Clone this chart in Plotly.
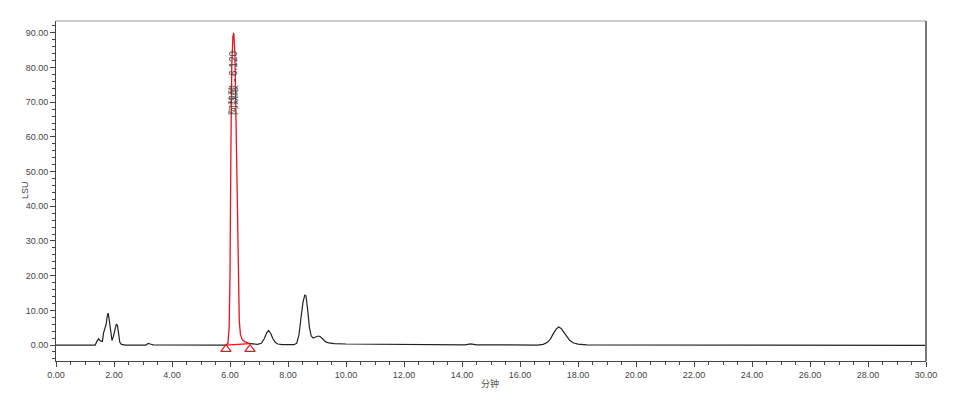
import plotly.graph_objects as go

# Black trace (signal outside the integrated peak), minutes vs LSU
black_t1 = [0.0, 1.35, 1.42, 1.47, 1.53, 1.60, 1.64, 1.68, 1.73, 1.77, 1.80, 1.84, 1.88, 1.93,
            1.98, 2.03, 2.08, 2.12, 2.16, 2.20, 2.26, 2.40, 3.10, 3.18, 3.25, 3.35, 5.86]
black_v1 = [0.0, 0.0, 1.2, 1.8, 1.2, 1.0, 3.5, 4.5, 6.0, 8.5, 9.2, 7.0, 3.5, 1.3,
            2.5, 4.8, 6.0, 5.6, 3.0, 0.8, 0.2, 0.0, 0.0, 0.5, 0.3, 0.05, 0.0]
black_t2 = [6.69, 6.80, 6.95, 7.08, 7.18, 7.27, 7.33, 7.40, 7.48, 7.56, 7.65, 7.80, 8.20, 8.30,
            8.38, 8.45, 8.52, 8.58, 8.62, 8.68, 8.74, 8.80, 8.87, 8.95, 9.05, 9.12, 9.20, 9.30,
            9.40, 9.60, 10.0, 11.0, 12.0, 14.1, 14.3, 14.5, 16.6, 16.8, 16.95, 17.05, 17.15,
            17.25, 17.33, 17.42, 17.52, 17.62, 17.72, 17.85, 18.0, 18.3, 30.0]
black_v2 = [0.4, 0.3, 0.2, 0.5, 1.8, 3.6, 4.2, 3.4, 1.8, 0.8, 0.3, 0.1, 0.1, 0.5,
            3.0, 8.0, 12.5, 14.4, 14.2, 10.0, 5.0, 2.6, 2.0, 2.3, 2.6, 2.4, 1.6, 0.9,
            0.6, 0.4, 0.3, 0.2, 0.1, 0.05, 0.35, 0.05, 0.0, 0.2, 0.8, 1.8, 3.3,
            4.6, 5.2, 4.8, 3.6, 2.3, 1.3, 0.6, 0.25, 0.05, -0.1]

# Integrated peak (red)
peak_t = [5.86, 5.93, 5.97, 6.00, 6.03, 6.06, 6.10, 6.13, 6.17, 6.21, 6.25, 6.29, 6.32,
          6.36, 6.42, 6.50, 6.60, 6.69]
peak_v = [0.0, 0.5, 5.0, 20.0, 55.0, 80.0, 89.0, 90.0, 84.0, 65.0, 40.0, 18.0, 7.0,
          3.0, 1.6, 1.0, 0.6, 0.4]
peak_base_t = [5.86, 6.69]
peak_base_v = [0.0, 0.4]
marker_t = [5.86, 6.69]
marker_v = [-1.2, -1.2]
peak_name = "阿魏酸"
peak_rt = 6.120

x_ticks = [0, 2, 4, 6, 8, 10, 12, 14, 16, 18, 20, 22, 24, 26, 28, 30]
y_ticks = [0, 10, 20, 30, 40, 50, 60, 70, 80, 90]
x_title = "分钟"
y_title = "LSU"

FONT = "Liberation Sans, Arial, Noto Sans CJK SC, sans-serif"
BLACK = "#222222"
RED = "#e8141c"

fig = go.Figure()
fig.add_trace(go.Scatter(x=black_t1, y=black_v1, mode="lines",
                         line=dict(color=BLACK, width=1.2), hoverinfo="skip"))
fig.add_trace(go.Scatter(x=black_t2, y=black_v2, mode="lines",
                         line=dict(color=BLACK, width=1.2), hoverinfo="skip"))
fig.add_trace(go.Scatter(x=peak_base_t, y=peak_base_v, mode="lines",
                         line=dict(color=RED, width=1.2), hoverinfo="skip"))
fig.add_trace(go.Scatter(x=peak_t, y=peak_v, mode="lines",
                         line=dict(color=RED, width=1.3), hoverinfo="skip"))
fig.add_trace(go.Scatter(x=marker_t, y=marker_v, mode="markers",
                         marker=dict(symbol="triangle-up-open", size=9,
                                     color=RED, line=dict(color=RED, width=1.2)),
                         hoverinfo="skip"))

fig.add_annotation(x=peak_rt, y=75.7, xref="x", yref="y",
                   text=f"{peak_name} - {peak_rt:.3f}", textangle=-90,
                   showarrow=False, font=dict(family=FONT, size=10, color="#444444"))

# axis titles as annotations
fig.add_annotation(x=0, y=0.503, xref="paper", yref="paper", xshift=-31,
                   xanchor="center", yanchor="middle",
                   text=y_title, textangle=-90, showarrow=False,
                   font=dict(family=FONT, size=9, color="#444444"))
fig.add_annotation(x=0.499, y=0, xref="paper", yref="paper", yshift=-22,
                   xanchor="center", yanchor="middle",
                   text=x_title, showarrow=False,
                   font=dict(family=FONT, size=9, color="#555555"))

fig.update_layout(
    width=964, height=399,
    margin=dict(l=48, r=46, t=13, b=46),
    paper_bgcolor="white", plot_bgcolor="white",
    showlegend=False,
    font=dict(family=FONT, size=9, color="#444444"),
    xaxis=dict(range=[0, 30], tickvals=x_ticks, tickformat=".2f", automargin=False,
               ticks="outside", ticklen=5, tickwidth=1, tickcolor="#444444",
               showline=True, linecolor="#444444", linewidth=1,
               showgrid=False, zeroline=False,
               minor=dict(dtick=0.5, tick0=0, ticks="outside", ticklen=3,
                          tickcolor="#444444", showgrid=False),
               tickfont=dict(size=9, color="#444444")),
    yaxis=dict(range=[-4.6, 93.4], tickvals=y_ticks, tickformat=".2f", automargin=False,
               ticks="outside", ticklen=5, tickwidth=1, tickcolor="#444444",
               showline=True, linecolor="#444444", linewidth=1,
               showgrid=False, zeroline=False,
               minor=dict(dtick=2, tick0=0, ticks="outside", ticklen=3,
                          tickcolor="#444444", showgrid=False),
               tickfont=dict(size=9, color="#444444")),
)

# frame: top (thin light) and right (darker gray)
fig.add_shape(type="line", xref="paper", yref="paper", x0=0, x1=1, y0=1, y1=1,
              line=dict(color="#999999", width=1))
fig.add_shape(type="line", xref="paper", yref="paper", x0=1, x1=1, y0=0, y1=1,
              line=dict(color="#777777", width=2))

fig.write_html("out.html")
